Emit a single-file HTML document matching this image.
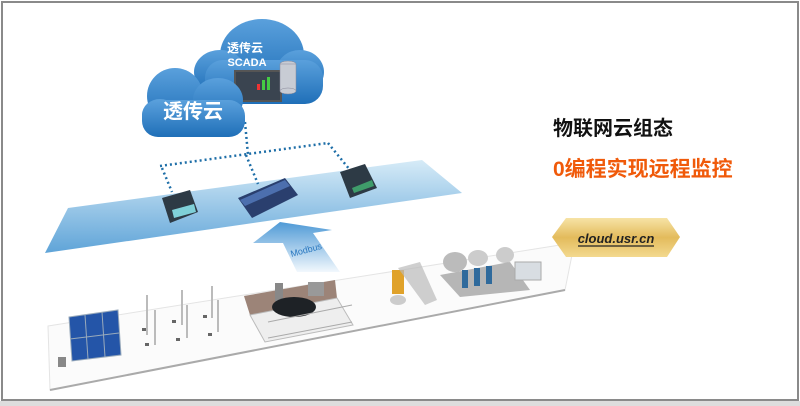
<!DOCTYPE html>
<html><head><meta charset="utf-8"><style>
html,body{margin:0;padding:0;background:#fff}
svg{display:block}
</style></head><body>
<svg width="800" height="406" viewBox="0 0 800 406" xmlns="http://www.w3.org/2000/svg" font-family="Liberation Sans, Noto Sans CJK SC, sans-serif">
<defs>
<linearGradient id="band" x1="0" y1="0" x2="0" y2="1">
<stop offset="0" stop-color="#d6ebf7"/><stop offset="1" stop-color="#5fa4d8"/></linearGradient>
<linearGradient id="arrow" x1="0" y1="0" x2="0" y2="1">
<stop offset="0" stop-color="#4f9ad6"/><stop offset="1" stop-color="#f2f8fd"/></linearGradient>
<linearGradient id="cloud" x1="0" y1="0" x2="0" y2="1">
<stop offset="0" stop-color="#5aa0dc"/><stop offset="1" stop-color="#1f6fb8"/></linearGradient>
<linearGradient id="gold" x1="0" y1="0" x2="0" y2="1">
<stop offset="0" stop-color="#f7e3a6"/><stop offset="0.5" stop-color="#e3bb5c"/><stop offset="1" stop-color="#f3d98f"/></linearGradient>
</defs>
<rect x="0" y="0" width="800" height="406" fill="#fff"/>
<rect x="2" y="2" width="796" height="398" fill="none" stroke="#8a8a8a" stroke-width="2"/>
<rect x="0" y="401" width="800" height="5" fill="#ddd"/>
<!-- platform -->
<polygon points="48,326 560,245 573,250 565,290 50,390" fill="#fbfbfb" stroke="#e4e4e4"/>
<polyline points="50,390 565,290" stroke="#aaa" stroke-width="2" fill="none"/>
<!-- band -->
<polygon points="68,208 422,160 462,193 45,253" fill="url(#band)"/>
<!-- arrow -->
<polygon points="280,222 332,230 313,233 340,272 297,272 283,243 253,243" fill="url(#arrow)"/>
<text x="290" y="254" font-size="9" fill="#2a78c0" transform="rotate(-15 302 250)">Modbus</text>
<!-- dotted lines -->
<g stroke="#1f6fa8" stroke-width="2.5" stroke-dasharray="2 3" fill="none">
<line x1="245" y1="122" x2="248" y2="155"/>
<line x1="160" y1="166" x2="328" y2="143"/>
<line x1="162" y1="168" x2="172" y2="192"/>
<line x1="328" y1="143" x2="350" y2="170"/>
<line x1="246" y1="155" x2="258" y2="184"/>
</g>
<!-- devices -->
<polygon points="162,198 190,190 198,212 170,223" fill="#2d3a45"/>
<polygon points="172,210 194,204 196,212 174,218" fill="#7fd0d8"/>
<polygon points="238,198 285,178 298,195 252,218" fill="#2a3f6e"/>
<polygon points="240,200 285,180 290,186 245,206" fill="#4c6fae"/>
<polygon points="340,172 365,164 377,188 350,198" fill="#2d3a45"/>
<polygon points="352,188 372,180 374,186 354,193" fill="#3f9c6a"/>
<!-- big cloud -->
<g fill="url(#cloud)">
<ellipse cx="262" cy="55" rx="42" ry="36"/>
<ellipse cx="220" cy="72" rx="26" ry="22"/>
<ellipse cx="300" cy="72" rx="24" ry="22"/>
<rect x="205" y="60" width="118" height="44" rx="18"/>
</g>
<rect x="234" y="70" width="48" height="32" fill="#555"/>
<rect x="236" y="72" width="44" height="28" fill="#3a4450"/>
<rect x="262" y="80" width="3" height="10" fill="#4c4"/><rect x="267" y="77" width="3" height="13" fill="#4c4"/><rect x="257" y="84" width="3" height="6" fill="#e33"/>
<g fill="#c8ccd4" stroke="#889" stroke-width="0.5">
<ellipse cx="288" cy="64" rx="8" ry="3"/><rect x="280" y="64" width="16" height="27"/><ellipse cx="288" cy="91" rx="8" ry="3"/>
</g>
<text x="245" y="52" font-size="12" font-weight="bold" fill="#fff" text-anchor="middle">透传云</text>
<text x="247" y="66" font-size="11" font-weight="bold" fill="#fff" text-anchor="middle">SCADA</text>
<!-- small cloud -->
<g fill="url(#cloud)">
<ellipse cx="175" cy="96" rx="28" ry="28"/>
<ellipse cx="218" cy="100" rx="25" ry="22"/>
<ellipse cx="160" cy="115" rx="18" ry="16"/>
<rect x="142" y="100" width="103" height="37" rx="16"/>
</g>
<text x="193" y="118" font-size="20" font-weight="bold" fill="#fff" text-anchor="middle">透传云</text>
<!-- scene items -->
<g>
<!-- solar -->
<polygon points="69,317 118,310 121,355 72,361" fill="#2455a8" stroke="#9ab" stroke-width="1"/>
<line x1="85" y1="315" x2="88" y2="359" stroke="#9ab"/><line x1="102" y1="312" x2="105" y2="357" stroke="#9ab"/>
<line x1="70" y1="339" x2="119" y2="333" stroke="#9ab"/>
<rect x="58" y="357" width="8" height="10" fill="#888"/>
<!-- turbines -->
<g stroke="#bbb" stroke-width="2">
<line x1="147" y1="295" x2="147" y2="335"/><line x1="155" y1="310" x2="155" y2="345"/>
<line x1="182" y1="290" x2="182" y2="325"/><line x1="187" y1="305" x2="187" y2="338"/>
<line x1="212" y1="286" x2="212" y2="318"/><line x1="218" y1="300" x2="218" y2="332"/>
</g>
<g fill="#666"><rect x="142" y="328" width="4" height="3"/><rect x="172" y="320" width="4" height="3"/><rect x="203" y="315" width="4" height="3"/><rect x="145" y="343" width="4" height="3"/><rect x="176" y="338" width="4" height="3"/><rect x="208" y="333" width="4" height="3"/></g>
<!-- car area -->
<polygon points="244,296 335,280 337,298 250,315" fill="#9c8478"/>
<polygon points="250,315 337,298 353,325 265,342" fill="#eee" stroke="#bbb"/>
<rect x="275" y="283" width="8" height="18" fill="#888"/>
<rect x="308" y="282" width="16" height="14" fill="#999"/>
<ellipse cx="294" cy="307" rx="22" ry="10" fill="#1e2226"/>
<g stroke="#aaa" stroke-width="1"><line x1="268" y1="322" x2="352" y2="305"/><line x1="268" y1="338" x2="352" y2="322"/></g>
<!-- robot -->
<rect x="392" y="270" width="12" height="24" fill="#e0a22a"/>
<ellipse cx="398" cy="300" rx="8" ry="5" fill="#ccc"/>
<polygon points="398,268 420,262 437,300 425,305" fill="#bbb" opacity="0.7"/>
<!-- factory -->
<ellipse cx="455" cy="262" rx="12" ry="10" fill="#bbb"/>
<ellipse cx="478" cy="258" rx="10" ry="8" fill="#ccc"/>
<ellipse cx="505" cy="255" rx="9" ry="8" fill="#ccc"/>
<polygon points="440,275 510,262 530,290 460,297" fill="#999" opacity="0.7"/>
<rect x="462" y="270" width="6" height="18" fill="#2f6a9c"/><rect x="474" y="268" width="6" height="18" fill="#2f6a9c"/><rect x="486" y="266" width="6" height="18" fill="#2f6a9c"/>
<rect x="515" y="262" width="26" height="18" fill="#d8dde2" stroke="#aaa"/>
</g>
<!-- right text -->
<text x="553" y="135" font-size="20" font-weight="bold" fill="#111">物联网云组态</text>
<text x="553" y="176" font-size="21" font-weight="bold" fill="#f05a0a">0编程实现远程监控</text>
<polygon points="552,237 566,218 667,218 680,237 667,257 566,257" fill="url(#gold)"/>
<text x="616" y="243" font-size="13" font-weight="bold" font-style="italic" fill="#222" text-anchor="middle">cloud.usr.cn</text>
<line x1="578" y1="246" x2="654" y2="246" stroke="#222" stroke-width="1.2"/>
</svg>
</body></html>
